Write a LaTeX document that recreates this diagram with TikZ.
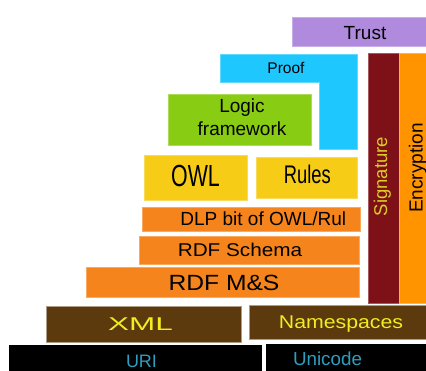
\documentclass[tikz,border=0pt]{standalone}
\usepackage{fontspec}
\setmainfont{Liberation Sans}
\newfontfamily\narrowfont[FakeStretch=0.70]{Liberation Sans}
\newfontfamily\rulesfont[FakeStretch=0.72]{Liberation Sans}
\newfontfamily\widefont[FakeStretch=1.12]{Liberation Sans}
\newfontfamily\xmlfont[FakeStretch=1.7]{Liberation Sans}
\newfontfamily\nsfont[FakeStretch=1.15]{Liberation Sans}

\definecolor{trustc}{HTML}{B08ADC}
\definecolor{proofc}{HTML}{1EC8FF}
\definecolor{logicc}{HTML}{88CC14}
\definecolor{owlc}{HTML}{F6CC16}
\definecolor{rdfc}{HTML}{F6841C}
\definecolor{sigc}{HTML}{7E1018}
\definecolor{encc}{HTML}{FF9400}
\definecolor{xmlc}{HTML}{5C3A0E}
\definecolor{xmltext}{HTML}{EEEE22}
\definecolor{uritext}{HTML}{2E9EBE}
\definecolor{sigtext}{HTML}{DCCC28}

\newcommand{\fsz}[1]{\fontsize{#1}{#1}\selectfont}

\tikzset{
  layer/.style={rectangle, inner sep=0pt, outer sep=0pt, line width=0.7pt},
  lbl/.style={inner sep=0pt, outer sep=0pt, anchor=base},
}

\begin{document}
\begin{tikzpicture}[x=1pt, y=-1pt]
\useasboundingbox (0,0) rectangle (426,370);
\clip (0,0) rectangle (426,370);

% top of the stack
\path[layer, fill=trustc, draw=trustc!70!white] (292,17) rectangle (432,46);
\node[lbl] (trust) at (365,39.5) {\fsz{19}Trust};

% Proof wraps round the logic framework
\path[layer, fill=proofc, draw=proofc!70!white]
  (220,54) -- (357,54) -- (357,149) -- (319,149) -- (319,82) -- (220,82) -- cycle;
\node[lbl] (proof) at (286,73.5) {\fsz{15.5}Proof};

\node[layer, fill=logicc, draw=logicc!70!white, minimum width=143pt, minimum height=51pt]
  (logicbox) at (239.5,119.5) {};
\node[inner sep=0pt, align=center, font=\fontsize{19}{23}\selectfont]
  (logic) at (242,117.5) {Logic\\framework};

% ontology and rules
\node[layer, fill=owlc, draw=owlc!70!white, minimum width=103pt, minimum height=45pt]
  (owlbox) at (195.5,177.5) {};
\node[lbl] (owl) at (195.5,186.7) {\narrowfont\fsz{30.5}OWL};
\node[layer, fill=owlc, draw=owlc!70!white, minimum width=101pt, minimum height=41pt]
  (rulesbox) at (306.5,177.5) {};
\node[lbl] (rules) at (307.3,183.3) {\rulesfont\fsz{25.5}Rules};

% RDF layers
\node[layer, fill=rdfc, draw=rdfc!70!white, minimum width=218pt, minimum height=24pt]
  (dlpbox) at (251,219) {};
\node[lbl] (dlp) at (263.3,225) {\fsz{19}DLP bit of OWL/Rul};
\node[layer, fill=rdfc, draw=rdfc!70!white, minimum width=220pt, minimum height=28pt]
  (schemabox) at (249,250) {};
\node[lbl] (schema) at (240,256) {\widefont\fsz{18.5}RDF Schema};
\node[layer, fill=rdfc, draw=rdfc!70!white, minimum width=273pt, minimum height=30pt]
  (msbox) at (222.5,282) {};
\node[lbl] (ms) at (224,290) {\widefont\fsz{22}RDF M\&S};

% vertical columns
\path[layer, fill=sigc, draw=sigc!70!white] (368,53) rectangle (399,303);
\node[lbl, rotate=90, text=sigtext] (sig) at (387,176.5) {\fsz{18.5}Signature};
\path[layer, fill=encc, draw=encc!70!white] (399,53) rectangle (432,303);
\node[lbl, rotate=90] (enc) at (422.6,168) {\fsz{19}Encryption};

% XML layer
\node[layer, fill=xmlc, draw=xmlc!50!white, minimum width=195pt, minimum height=36pt]
  (xmlbox) at (143.5,324) {};
\node[lbl, text=xmltext] (xml) at (140.5,330) {\xmlfont\fsz{18.5}XML};
\path[layer, fill=xmlc, draw=xmlc!50!white] (249,305) rectangle (432,339);
\node[lbl, text=xmltext] (ns) at (341,328) {\nsfont\fsz{18.5}Namespaces};

% base layer
\path[layer, fill=black] (9,345) rectangle (262,380);
\node[lbl, text=uritext] (uri) at (141.5,367) {\fsz{18}URI};
\path[layer, fill=black] (266,344) rectangle (432,380);
\node[lbl, text=uritext] (uni) at (327.5,365.5) {\fsz{18.8}Unicode};
\end{tikzpicture}
\end{document}
